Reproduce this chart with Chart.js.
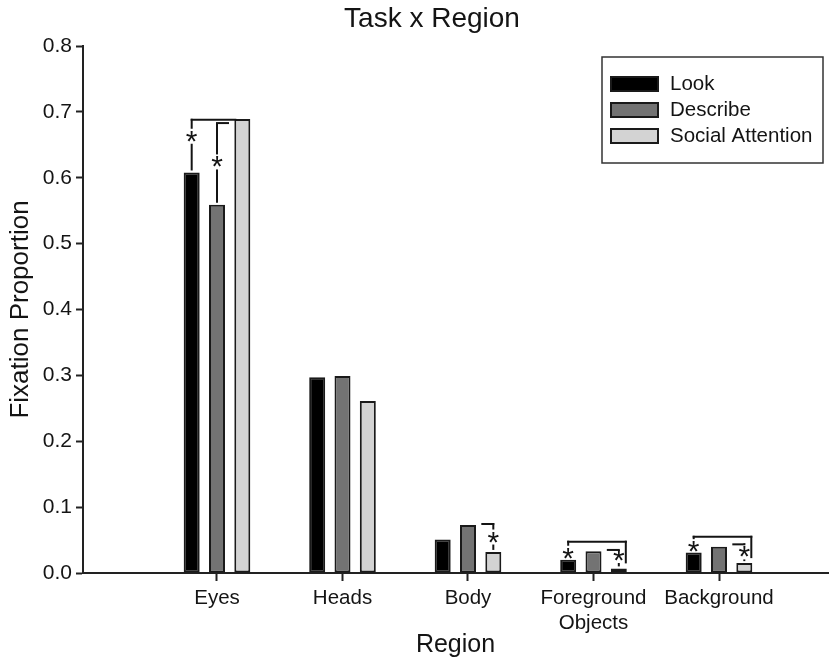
<!DOCTYPE html>
<html>
<head>
<meta charset="utf-8">
<title>Task x Region</title>
<script src="https://cdn.jsdelivr.net/npm/chart.js@4/dist/chart.umd.min.js"></script>
<style>
  html, body { margin: 0; padding: 0; background: #ffffff; }
  #wrap { width: 839px; height: 660px; position: relative; }
</style>
</head>
<body>
<div id="wrap"><canvas id="chart" width="839" height="660"></canvas></div>
<script>
// Fixation proportion per region, one array per task
const REGIONS = ['Eyes', 'Heads', 'Body', 'Foreground Objects', 'Background'];
const TICK_LABELS = ['Eyes', 'Heads', 'Body', ['Foreground', 'Objects'], 'Background'];
const SERIES_NAMES = ['Look', 'Describe', 'Social Attention'];
const LOOK = [0.608, 0.297, 0.051, 0.020, 0.031];
const DESCRIBE = [0.559, 0.299, 0.073, 0.033, 0.040];
const SOCIAL_ATTENTION = [0.689, 0.261, 0.032, 0.007, 0.015];
const Y_TICKS = [0.0, 0.1, 0.2, 0.3, 0.4, 0.5, 0.6, 0.7, 0.8];
const CHART_TITLE = 'Task x Region';

// Significant differences: bracket joining two bars of a region (level = bracket height)
const SIG_BRACKETS = [
  { region: 0, from: 0, to: 2, level: 0.688, star: 0.663 },
  { region: 3, from: 0, to: 2, level: 0.0475, star: 0.030 },
  { region: 4, from: 0, to: 2, level: 0.055, star: 0.040 }
];
// Short marks rising from a single bar with a sideways tick
const SIG_MARKS = [
  { region: 0, series: 1, level: 0.683, star: 0.624, dir: 1 },
  { region: 2, series: 2, level: 0.0744, star: 0.0546, dir: -1 },
  { region: 3, series: 2, level: 0.035, star: 0.0266, dir: -1 },
  { region: 4, series: 2, level: 0.0435, star: 0.032, dir: -1 }
];

const FONT = "'Liberation Sans', Arial, Helvetica, sans-serif";
const INK = '#141414';
const FILLS = ['#000000', '#737373', '#d3d3d3'];

const toPoints = arr => arr.map((v, i) => ({ x: i + 1, y: v }));

const datasets = [LOOK, DESCRIBE, SOCIAL_ATTENTION].map((vals, k) => ({
  label: SERIES_NAMES[k],
  data: toPoints(vals),
  backgroundColor: FILLS[k],
  borderColor: '#1a1a1a',
  borderWidth: 2,
  borderSkipped: false,
  categoryPercentage: 0.605,
  barPercentage: 0.632
}));

function drawStar(ctx, x, cy) {
  ctx.save();
  ctx.font = '30px ' + FONT;
  ctx.fillStyle = INK;
  ctx.textAlign = 'center';
  ctx.textBaseline = 'alphabetic';
  const m = ctx.measureText('*');
  const base = cy + (m.actualBoundingBoxAscent - m.actualBoundingBoxDescent) / 2;
  ctx.fillText('*', x, base);
  ctx.restore();
  return { top: cy - (m.actualBoundingBoxAscent + m.actualBoundingBoxDescent) / 2,
           bottom: cy + (m.actualBoundingBoxAscent + m.actualBoundingBoxDescent) / 2 };
}

function seg(ctx, x1, y1, x2, y2) {
  ctx.beginPath();
  ctx.moveTo(x1, y1);
  ctx.lineTo(x2, y2);
  ctx.stroke();
}

// vertical line from a bracket level down to a bar, interrupted by an asterisk
function starLine(ctx, x, yTop, yStar, yBar) {
  const box = drawStar(ctx, x, yStar);
  if (box.top - 2 > yTop) seg(ctx, x, yTop, x, box.top - 2);
  if (yBar - 2 > box.bottom + 2) seg(ctx, x, box.bottom + 2, x, yBar - 2);
}

const significance = {
  id: 'significance',
  afterDatasetsDraw(chart) {
    const { ctx } = chart;
    const y = chart.scales.y;
    const bar = (s, r) => chart.getDatasetMeta(s).data[r];
    ctx.save();
    ctx.strokeStyle = INK;
    ctx.lineWidth = 2;
    ctx.lineCap = 'butt';

    SIG_BRACKETS.forEach(b => {
      const a = bar(b.from, b.region);
      const c = bar(b.to, b.region);
      const yl = y.getPixelForValue(b.level);
      const x1 = a.x;
      const cTop = c.y;
      let x2;
      if (cTop - yl < 3) {
        x2 = c.x - c.width / 2 + 1;
      } else {
        x2 = c.x + c.width / 2 - 1;
        seg(ctx, x2, yl - 1, x2, cTop - 5);
      }
      seg(ctx, x1 - 1, yl, x2 + 1, yl);
      starLine(ctx, x1, yl - 1, y.getPixelForValue(b.star), a.y);
    });

    SIG_MARKS.forEach(m => {
      const e = bar(m.series, m.region);
      const yl = y.getPixelForValue(m.level);
      seg(ctx, e.x + 1, yl, e.x + m.dir * 12, yl);
      starLine(ctx, e.x, yl - 1, y.getPixelForValue(m.star), e.y);
    });
    ctx.restore();
  }
};

// boxed legend inside the plot, top right
const boxedLegend = {
  id: 'boxedLegend',
  afterDraw(chart) {
    const { ctx, chartArea } = chart;
    const w = 221, h = 106;
    const left = chartArea.right - 5 - w;
    const top = chartArea.top + 11;
    ctx.save();
    ctx.strokeStyle = '#333';
    ctx.lineWidth = 1.5;
    ctx.strokeRect(left, top, w, h);
    ctx.font = '20.5px ' + FONT;
    ctx.textBaseline = 'middle';
    ctx.textAlign = 'left';
    chart.data.datasets.forEach((ds, i) => {
      const sy = top + 19 + i * 26;
      ctx.fillStyle = ds.backgroundColor;
      ctx.fillRect(left + 8, sy, 49, 16);
      ctx.strokeStyle = '#1a1a1a';
      ctx.lineWidth = 2;
      ctx.strokeRect(left + 9, sy + 1, 47, 14);
      ctx.fillStyle = INK;
      ctx.fillText(ds.label, left + 68, sy + 8);
    });
    ctx.restore();
  }
};

// chart heading, centred a little left of the plot middle
const heading = {
  id: 'heading',
  afterDraw(chart) {
    const { ctx } = chart;
    ctx.save();
    ctx.font = '28px ' + FONT;
    ctx.fillStyle = INK;
    ctx.textAlign = 'center';
    ctx.textBaseline = 'alphabetic';
    ctx.fillText(CHART_TITLE, 432, 27);
    ctx.restore();
  }
};

new Chart(document.getElementById('chart'), {
  type: 'bar',
  data: { datasets },
  plugins: [significance, boxedLegend, heading],
  options: {
    responsive: false,
    animation: false,
    events: [],
    layout: { padding: { left: 0, right: 11, top: 46, bottom: 0 } },
    plugins: {
      legend: { display: false },
      tooltip: { enabled: false },
      title: { display: false }
    },
    scales: {
      x: {
        type: 'linear',
        min: -0.0677,
        max: 5.8685,
        offset: false,
        afterFit: s => { s.height = 87; },
        afterBuildTicks: s => { s.ticks = REGIONS.map((_, i) => ({ value: i + 1 })); },
        grid: { offset: false, drawOnChartArea: false, drawTicks: true, tickLength: 8, tickWidth: 2, tickColor: '#222' },
        border: { display: true, color: '#222', width: 2 },
        ticks: {
          autoSkip: false,
          maxRotation: 0,
          padding: 5,
          color: INK,
          font: { family: FONT, size: 20.5 },
          callback: v => TICK_LABELS[v - 1]
        },
        title: {
          display: true,
          text: 'Region',
          color: INK,
          font: { family: FONT, size: 25 },
          padding: { top: 0, bottom: 0 }
        }
      },
      y: {
        min: 0,
        max: 0.8,
        afterFit: s => { s.width = 83; },
        afterBuildTicks: s => { s.ticks = Y_TICKS.map(v => ({ value: v })); },
        grid: { drawOnChartArea: false, drawTicks: true, tickLength: 7, tickWidth: 2, tickColor: '#222' },
        border: { display: true, color: '#222', width: 2 },
        ticks: {
          padding: 4,
          color: INK,
          font: { family: FONT, size: 21 },
          callback: v => Number(v).toFixed(1)
        },
        title: {
          display: true,
          text: 'Fixation Proportion',
          color: INK,
          font: { family: FONT, size: 26 },
          padding: { top: 5, bottom: 0 }
        }
      }
    }
  }
});
</script>
</body>
</html>
